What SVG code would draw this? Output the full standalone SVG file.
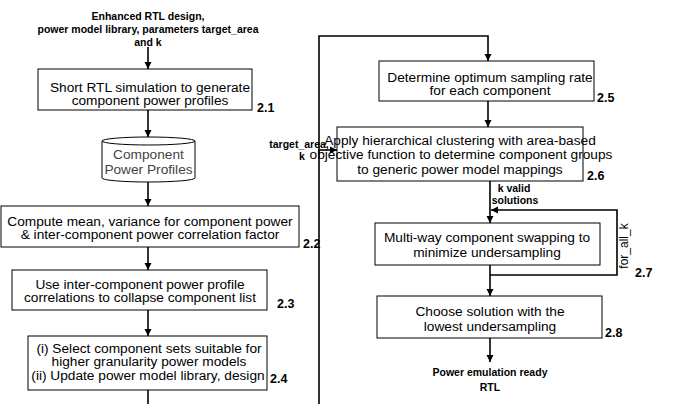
<svg xmlns="http://www.w3.org/2000/svg" width="678" height="404" viewBox="0 0 678 404">
<style>
.box{fill:#fff;stroke:#000;stroke-width:1}
.t{font-family:"Liberation Sans",Arial,sans-serif;font-size:13.7px;fill:#000;text-anchor:middle}
.g{fill:#444}
.b{font-family:"Liberation Sans",Arial,sans-serif;font-size:10.5px;font-weight:bold;fill:#000;text-anchor:middle}
.n{font-family:"Liberation Sans",Arial,sans-serif;font-size:12.5px;font-weight:bold;fill:#000}
.c{fill:none;stroke:#000;stroke-width:1.6}
.r{font-family:"Liberation Sans",Arial,sans-serif;font-size:12px;fill:#000;text-anchor:middle}
</style>
<defs>
<marker id="ah" viewBox="0 0 10 10" refX="10" refY="5" markerWidth="4.5" markerHeight="4.5" orient="auto" markerUnits="strokeWidth">
<path d="M0,0 L10,5 L0,10 z" fill="#000"/>
</marker>
</defs>
<g id="input">
<text class="b" x="148" y="19.5">Enhanced RTL design,</text>
<text class="b" x="148" y="32.5">power model library, parameters target_area</text>
<text class="b" x="148" y="45.5">and k</text>
</g>
<g id="n21">
<rect class="box" x="38" y="69" width="214" height="41"/>
<text class="t" x="150" y="91.5">Short  RTL simulation to generate</text>
<text class="t" x="150" y="105">component power profiles</text>
<text class="n" x="257" y="112">2.1</text>
</g>
<g id="db">
<path class="box" d="M102,141 A46.5,4 0 0 1 195,141 L195,178 A46.5,4 0 0 1 102,178 Z"/>
<path class="box" d="M102,141 A46.5,4 0 0 0 195,141" fill="none"/>
<text class="t g" x="148.5" y="158.5">Component</text>
<text class="t g" x="148.5" y="173.5">Power Profiles</text>
</g>
<g id="n22">
<rect class="box" x="1" y="206" width="298" height="41"/>
<text class="t" x="150" y="225.5">Compute mean, variance for component power</text>
<text class="t" x="150" y="239">&amp; inter-component power correlation factor</text>
<text class="n" x="303" y="248">2.2</text>
</g>
<g id="n23">
<rect class="box" x="12" y="270" width="255" height="40"/>
<text class="t" x="140" y="288.5">Use inter-component power profile</text>
<text class="t" x="140" y="302">correlations to collapse component list</text>
<text class="n" x="277" y="308">2.3</text>
</g>
<g id="n24">
<rect class="box" x="28" y="336" width="239" height="54"/>
<text class="t" x="149" y="352.5">(i) Select component sets suitable for</text>
<text class="t" x="149" y="366">higher granularity power models</text>
<text class="t" x="148" y="379.5">(ii) Update power model library, design</text>
<text class="n" x="270" y="383">2.4</text>
</g>
<g id="n25">
<rect class="box" x="379" y="61" width="215" height="40"/>
<text class="t" x="490" y="81.5">Determine optimum sampling rate</text>
<text class="t" x="490" y="95">for each component</text>
<text class="n" x="597" y="102">2.5</text>
</g>
<g id="n26">
<rect class="box" x="337" y="127" width="246" height="54"/>
<text class="t" x="460" y="144.5">Apply hierarchical clustering with area-based</text>
<text class="t" x="461" y="159">objective function to determine component groups</text>
<text class="t" x="460" y="173.5">to generic power model mappings</text>
<text class="n" x="587" y="180">2.6</text>
</g>
<g id="n27">
<rect class="box" x="375" y="223" width="225" height="42"/>
<text class="t" x="487" y="241.5">Multi-way component swapping to</text>
<text class="t" x="487" y="256.5">minimize undersampling</text>
<text class="n" x="635" y="277">2.7</text>
</g>
<g id="n28">
<rect class="box" x="377" y="296" width="225" height="42"/>
<text class="t" x="490" y="315.5">Choose solution with the</text>
<text class="t" x="490" y="331">lowest undersampling</text>
<text class="n" x="605" y="337">2.8</text>
</g>
<g id="output">
<text class="b" x="490" y="375.5">Power emulation ready</text>
<text class="b" x="490" y="390.5">RTL</text>
</g>
<g id="labels">
<text class="b" x="299" y="148">target_area,</text>
<text class="b" x="302" y="159.5">k</text>
<text class="b" x="514" y="191.5">k valid</text>
<text class="b" x="515" y="204">solutions</text>
<text class="r" transform="translate(628,246) rotate(-90)">for_all_k</text>
</g>
<g id="connectors">
<line class="c" x1="148" y1="47" x2="148" y2="69" marker-end="url(#ah)"/>
<line class="c" x1="148" y1="110" x2="148" y2="137" marker-end="url(#ah)"/>
<line class="c" x1="148" y1="182" x2="148" y2="206" marker-end="url(#ah)"/>
<line class="c" x1="148" y1="247" x2="148" y2="270" marker-end="url(#ah)"/>
<line class="c" x1="148" y1="310" x2="148" y2="336" marker-end="url(#ah)"/>
<line class="c" x1="148" y1="390" x2="148" y2="404"/>
<polyline class="c" points="319,404 319,36 488,36 488,61" marker-end="url(#ah)"/>
<line class="c" x1="488" y1="101" x2="488" y2="127" marker-end="url(#ah)"/>
<line class="c" x1="319" y1="150" x2="337" y2="150" marker-end="url(#ah)"/>
<line class="c" x1="490" y1="181" x2="490" y2="223" marker-end="url(#ah)"/>
<line class="c" x1="490" y1="265" x2="490" y2="296" marker-end="url(#ah)"/>
<polyline class="c" points="490,275 617,275 617,210 491,210" marker-end="url(#ah)"/>
<line class="c" x1="490" y1="338" x2="490" y2="362" marker-end="url(#ah)"/>
</g>
</svg>
